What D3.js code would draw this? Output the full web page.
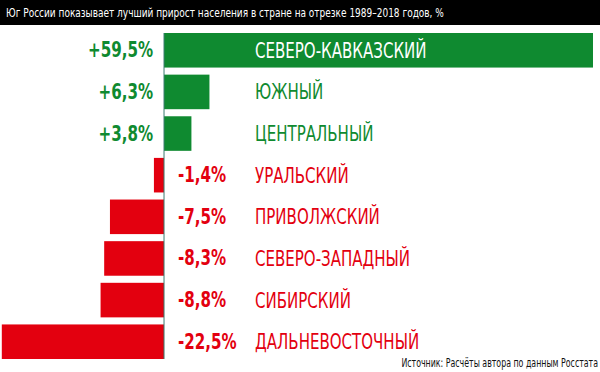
<!DOCTYPE html>
<html><head><meta charset="utf-8">
<script src="https://cdn.jsdelivr.net/npm/d3@7"></script>
<style>
body{margin:0;background:#fff;}
svg{display:block;}
text{font-family:"Liberation Sans Narrow","DejaVu Sans Condensed","Roboto Condensed",sans-serif;}
</style></head>
<body><svg id="c" width="600" height="372"></svg>
<script>
const title = "Юг России показывает лучший прирост населения в стране на отрезке 1989–2018 годов, %";
const source = "Источник: Расчёты автора по данным Росстата";
const regions = ["СЕВЕРО-КАВКАЗСКИЙ","ЮЖНЫЙ","ЦЕНТРАЛЬНЫЙ","УРАЛЬСКИЙ","ПРИВОЛЖСКИЙ","СЕВЕРО-ЗАПАДНЫЙ","СИБИРСКИЙ","ДАЛЬНЕВОСТОЧНЫЙ"];
const values = [59.5, 6.3, 3.8, -1.4, -7.5, -8.3, -8.8, -22.5];
const valueLabels = ["+59,5%","+6,3%","+3,8%","-1,4%","-7,5%","-8,3%","-8,8%","-22,5%"];

const GREEN = "#0f8a30", RED = "#e3000f";
const svg = d3.select("#c");
const W = 600, H = 372;

// title bar
svg.append("rect").attr("x",0).attr("y",0).attr("width",W).attr("height",25).attr("fill","#000");
svg.append("text").attr("transform","translate(6,17) scale(0.8,1)").attr("fill","#fff").attr("font-size",12.5).text(title);

const x = d3.scaleLinear().domain([-22.75, 59.5]).range([0, 593]).clamp(true);
const y = d3.scaleBand().domain(regions).range([33, 359]).paddingInner(0.17).paddingOuter(0);

const data = regions.map((r,i)=>({r, v:values[i], l:valueLabels[i]}));
const g = svg.append("g");

g.selectAll("rect.bar").data(data).join("rect").attr("class","bar")
  .attr("x", d=>Math.min(x(0), x(d.v)))
  .attr("y", d=>y(d.r))
  .attr("width", d=>Math.abs(x(d.v)-x(0)))
  .attr("height", y.bandwidth())
  .attr("fill", d=>d.v>=0?GREEN:RED);

// zero axis line
svg.append("line").attr("x1",x(0)).attr("x2",x(0)).attr("y1",y(regions[0])).attr("y2",y(regions[regions.length-1])+y.bandwidth())
  .attr("stroke","#3a7a70").attr("stroke-width",1);

// value labels
g.selectAll("text.val").data(data).join("text").attr("class","val")
  .attr("transform", d=>`translate(${d.v>=0 ? x(0)-11 : 178},${y(d.r)+y.bandwidth()/2+7}) scale(0.8,1)`)
  .attr("text-anchor", d=>d.v>=0?"end":"start")
  .attr("font-size",21).attr("font-weight","bold")
  .attr("fill", d=>d.v>=0?GREEN:RED)
  .text(d=>d.l);

// region labels
g.selectAll("text.reg").data(data).join("text").attr("class","reg")
  .attr("transform", d=>`translate(255,${y(d.r)+y.bandwidth()/2+7.5}) scale(0.76,1)`)
  .attr("font-size",22)
  .attr("fill", d=> (x(d.v) > 255) ? "#fff" : (d.v>=0?GREEN:RED))
  .text(d=>d.r);

svg.append("text").attr("transform","translate(598,367) scale(0.76,1)").attr("text-anchor","end")
  .attr("font-size",11.5).attr("fill","#111").text(source);
</script></body></html>
